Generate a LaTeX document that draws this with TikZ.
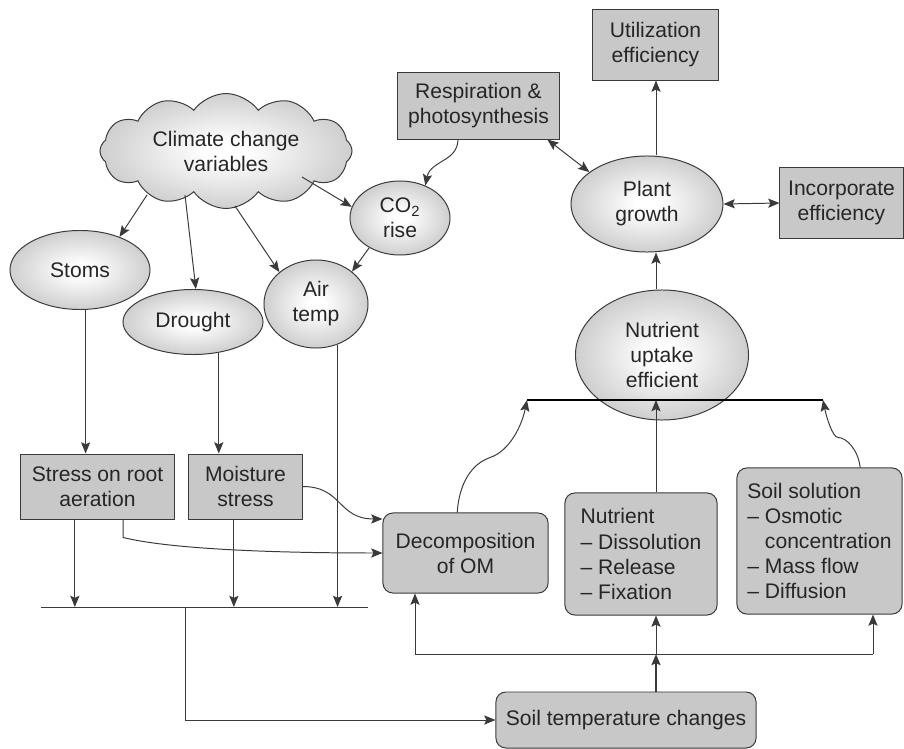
\documentclass[tikz,border=0pt]{standalone}
\usepackage{fontspec}
\setmainfont{Liberation Sans}
\usetikzlibrary{shapes.geometric, shapes.symbols, arrows.meta, calc}
\definecolor{boxgray}{HTML}{C8C8C8}
\definecolor{blobgray}{HTML}{9E9E9E}
\definecolor{ink}{HTML}{3A3A3A}
\pgfdeclareradialshading{blobshade}{\pgfpointorigin}{color(0bp)=(white); color(4bp)=(white); color(46bp)=(blobgray); color(72bp)=(blobgray)}
\tikzstyle{box}=[rectangle, draw=ink, fill=boxgray, align=center, inner sep=0pt]
\tikzstyle{rbox}=[box, rounded corners=7pt]
\tikzstyle{blob}=[ellipse, draw=ink, shade, shading=blobshade, align=center, inner sep=0pt]

\begin{document}
\begin{tikzpicture}[x=0.025cm, y=-0.025cm, line width=0.7pt, color=ink, text=black!85,
    font=\fontsize{15}{17.8}\selectfont, >={Stealth[length=8pt,width=6.5pt,inset=1.5pt]}]
\useasboundingbox (0,0) rectangle (904,749);
% Climate side
    \node[blob, cloud, cloud puffs=12, cloud puff arc=110, aspect=2.3, minimum width=6.3cm, minimum height=2.75cm] (clim) at (226,151) {Climate change\\variables};
    \node[blob, minimum width=3.5cm, minimum height=1.975cm] (stoms) at (80,270) {Stoms};
    \node[blob, minimum width=3.5cm, minimum height=1.625cm] (drought) at (193,322) {Drought};
    \node[blob, minimum width=2.6cm, minimum height=2.2cm] (air) at (316,304) {Air\\temp};
    \node[blob, minimum width=2.5cm, minimum height=1.85cm] (co2) at (400,218) {CO\textsubscript{2}\\rise};
    \node[box, minimum width=3.825cm, minimum height=1.625cm] (stress) at (97.5,486.5) {Stress on root\\aeration};
    \node[box, minimum width=2.825cm, minimum height=1.625cm] (moist) at (245.5,486.5) {Moisture\\stress};
% Plant side
    \node[box, minimum width=4.025cm, minimum height=1.65cm] (resp) at (478.5,106) {Respiration \&\\photosynthesis};
    \node[box, minimum width=3.125cm, minimum height=1.75cm] (util) at (655.5,45) {Utilization\\efficiency};
    \node[blob, minimum width=3.8cm, minimum height=2.4cm] (plant) at (647,204) {Plant\\growth};
    \node[box, minimum width=3.075cm, minimum height=1.75cm] (incorp) at (841.5,203) {Incorporate\\efficiency};
    \node[blob, minimum width=4.325cm, minimum height=3.25cm] (uptake) at (662,355) {Nutrient\\uptake\\efficient};
% Soil side
    \node[rbox, minimum width=4.125cm, minimum height=2cm] (decomp) at (465.5,553) {Decomposition\\of OM};
    \node[rbox, align=left, minimum width=3.8cm, minimum height=3.05cm] (nutr) at (641,554) {Nutrient\\\textendash{} Dissolution\\\textendash{} Release\\\textendash{} Fixation};
    \node[rbox, align=left, minimum width=4.125cm, minimum height=3.65cm] (soil) at (819.5,541) {Soil solution\\\textendash{} Osmotic\\\hphantom{\textendash{} }concentration\\\textendash{} Mass flow\\\textendash{} Diffusion};
    \node[rbox, minimum width=6.5cm, minimum height=1.4cm] (soiltemp) at (626,720) {Soil temperature changes};
% Junctions
    \coordinate (col) at (656,0);
    \coordinate (barL) at (41,607);
    \coordinate (barR) at (368,607);
    \coordinate (barT) at (185,607);
    \coordinate (topL) at (527,400);
    \coordinate (topR) at (823,400);
    \coordinate (brL) at (415,654);
    \coordinate (brR) at (873,654);
    \coordinate (s1) at ($(stress.south west)!0.353!(stress.south east)$);
    \coordinate (s2) at ($(stress.south west)!0.667!(stress.south east)$);
    \coordinate (m1) at ($(moist.south west)!0.398!(moist.south east)$);
% Climate drivers
    \draw[->] ($(clim.center)+(-79,44)$) -- (stoms.40);
    \draw[->] ($(clim.center)+(-41,44)$) -- (drought.85);
    \draw[->] ($(clim.center)+(9,55)$) -- (air.139);
    \draw[->] ($(clim.center)+(76,26)$) -- (co2.167);
    \draw[->] (co2.224) -- (air.42);
    \draw[->] ($(resp.south west)!0.373!(resp.south east)$) .. controls +(0,22) and +(5,-25) .. (co2.52);
% Plant growth links
    \draw[<->] ($(resp.south west)!0.925!(resp.south east)$) -- (plant.151);
    \draw[<->] (plant.east) -- (incorp.west);
    \draw[->] (plant.north -| col) -- (util.south -| col);
    \draw[->] (uptake.north -| col) -- (plant.south -| col);
% Uptake bar
    \draw[black, line width=2pt] (topL) -- (topR);
    \draw[->] ($(decomp.north west)!0.45!(decomp.north east)$) .. controls +(2,-30) and +(-18,6) .. ++(33,-55)
        .. controls +(20,-7) and +(-5,25) .. (topL);
    \draw[->] (nutr.north -| col) -- (col |- topL);
    \draw[->] ($(soil.north west)!0.745!(soil.north east)$) .. controls +(-2,-18) and +(8,0) .. ++(-22,-30)
        .. controls +(-6,0) and +(3,15) .. (topR);
% Soil temperature supply
    \draw (brL) -- (brR);
    \draw[->] (brL) -- (brL |- decomp.south);
    \draw[->] (col |- brL) -- (nutr.south -| col);
    \draw[->] (brR) -- (brR |- soil.south);
    \draw[->, line width=1.2pt] (soiltemp.north -| col) -- (col |- brL);
% Stress paths
    \draw[->] (stoms.-82) -- (stoms.-82 |- stress.north);
    \draw[->] (drought.-50) -- (drought.-50 |- moist.north);
    \draw[->] (air.-62) -- (air.-62 |- barL);
    \draw (barL) -- (barR);
    \draw[->] (s1) -- (s1 |- barL);
    \draw[->] (m1) -- (m1 |- barL);
    \draw[->] (s2) -- ++(0,18) .. controls +(40,10) and +(-130,0) .. (decomp.west);
    \draw[->] (moist.east) .. controls +(40,0) and +(-45,0) .. ($(decomp.north west)!0.08!(decomp.south west)$);
    \draw[->] (barT) |- (soiltemp.west);
\end{tikzpicture}
\end{document}
